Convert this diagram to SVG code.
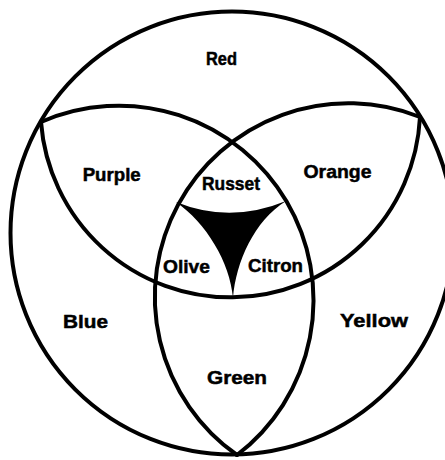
<svg xmlns="http://www.w3.org/2000/svg" width="445" height="460" viewBox="0 0 445 460">
<style>
.ln{fill:none;stroke:#000;stroke-width:4;stroke-linecap:round}
.lb{font-family:"Liberation Sans",Arial,sans-serif;font-weight:bold;font-size:19px;fill:#000;stroke:#000;stroke-width:0.5;text-anchor:middle}
</style>
<rect width="445" height="460" fill="#fff"/>
<g id="center-black">
<path d="M176,202 Q230,224 286,201 C254,221 236,262 233,298 C230,262 206,223 176,202 Z" fill="#000"/>
</g>
<g id="outlines">
<circle class="ln" cx="232" cy="233" r="221.5" stroke-width="4.2"/>
<path class="ln" d="M41,122 A194.6,194.6 0 0,1 237,455"/>
<path class="ln" d="M420,117 A193.5,193.5 0 0,0 237,455"/>
<path class="ln" d="M41,122 A189.9,189.9 0 0,0 420,117"/>
</g>
<g id="labels">
<text class="lb" x="221.5" y="65" textLength="31" lengthAdjust="spacingAndGlyphs">Red</text>
<text class="lb" x="111.7" y="181" textLength="58" lengthAdjust="spacingAndGlyphs">Purple</text>
<text class="lb" x="337.5" y="178" textLength="68" lengthAdjust="spacingAndGlyphs">Orange</text>
<text class="lb" x="231" y="190" textLength="58" lengthAdjust="spacingAndGlyphs">Russet</text>
<text class="lb" x="186.5" y="273" textLength="47" lengthAdjust="spacingAndGlyphs">Olive</text>
<text class="lb" x="275.5" y="272" textLength="55" lengthAdjust="spacingAndGlyphs">Citron</text>
<text class="lb" x="85.5" y="328" textLength="45" lengthAdjust="spacingAndGlyphs">Blue</text>
<text class="lb" x="374" y="327" textLength="68" lengthAdjust="spacingAndGlyphs" font-size="21">Yellow</text>
<text class="lb" x="237" y="384" textLength="60" lengthAdjust="spacingAndGlyphs">Green</text>
</g>
</svg>
